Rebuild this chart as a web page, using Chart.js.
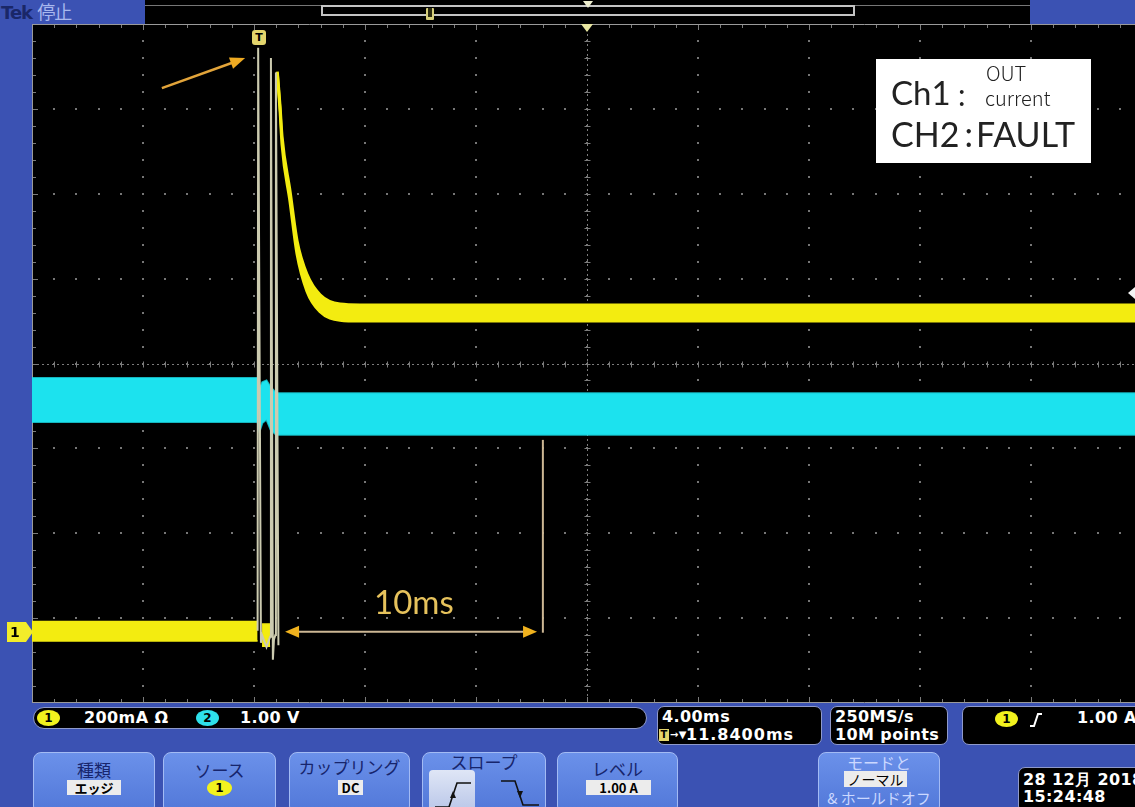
<!DOCTYPE html>
<html><head><meta charset="utf-8">
<script src="https://cdn.jsdelivr.net/npm/chart.js@4.4.1/dist/chart.umd.min.js"></script>
<style>
html,body{margin:0;padding:0;background:#000;}
#root{position:relative;width:1135px;height:807px;overflow:hidden;background:#000;font-family:"DejaVu Sans",sans-serif;}
.abs{position:absolute;}
.blue{position:absolute;background:#3b52b3;}
.box{position:absolute;background:#000;border:1px solid #8f9acb;box-sizing:border-box;}
.rt{position:absolute;color:#fff;font-weight:bold;font-size:16px;line-height:18px;letter-spacing:0.4px;white-space:nowrap;}
.c1{position:absolute;width:23px;height:16px;border-radius:50%;background:#f2f21e;color:#000;font:bold 12px/16px "DejaVu Sans";text-align:center;}
.c2{position:absolute;width:23px;height:16px;border-radius:50%;background:#2ee0ea;color:#000;font:bold 12px/16px "DejaVu Sans";text-align:center;}
.btn{position:absolute;top:752px;height:62px;border-radius:8px;background:linear-gradient(#6b91ea,#5177d8);border:1.5px solid #a3bbf4;box-sizing:border-box;}
.lbl{position:absolute;left:0;right:0;text-align:center;font-family:"Noto Sans CJK JP";font-size:17px;line-height:18px;color:#17256c;white-space:nowrap;}
.val{position:absolute;background:#ececec;color:#000;font-family:"Noto Sans CJK JP","DejaVu Sans";font-size:13px;line-height:15px;font-weight:bold;text-align:center;white-space:nowrap;}
.lg{position:absolute;color:#222;white-space:nowrap;line-height:1;}
</style></head><body>
<div id="root">
  <!-- frame -->
  <div class="blue" style="left:0;top:0;width:145px;height:24px;"></div>
  <div class="blue" style="left:1030px;top:0;width:105px;height:24px;"></div>
  <div class="blue" style="left:0;top:24px;width:32px;height:679px;"></div>
  <div class="blue" style="left:0;top:703px;width:1135px;height:104px;"></div>
  <div class="abs" style="left:1px;top:1px;font:bold 18px/20px 'DejaVu Sans';color:#1a2768;letter-spacing:-1px;">Tek <span style="font-family:'Noto Sans CJK JP';font-weight:normal;color:#a9b8ee;">停止</span></div>
  <div class="abs" style="left:145px;top:5px;width:885px;height:1px;background:#777;"></div>
  <div class="abs" style="left:321px;top:5px;width:534px;height:11px;border:2px solid #c4c4c4;box-sizing:border-box;"></div>
  <div class="abs" style="left:426px;top:8px;width:8px;height:12px;background:#d6cf7a;border-radius:1px;"></div>
  <div class="abs" style="left:428px;top:8px;width:4px;height:9px;background:#2a2a10;"></div>
  <svg class="abs" style="left:582px;top:0px" width="12" height="10"><polygon points="1,1 11,1 6,8" fill="#f0f0d0"/></svg>

  <canvas id="scope" class="abs" width="1110" height="679" style="left:32px;top:24px;width:1110px;height:679px;"></canvas>

  <!-- markers on graticule -->
  <svg class="abs" style="left:580px;top:24px" width="14" height="10"><polygon points="1,0 13,0 7,8" fill="#e8e6a0"/></svg>
  <div class="abs" style="left:252px;top:30px;width:14px;height:15px;background:#e3d56c;border-radius:3px;color:#000;font:bold 11px/15px 'DejaVu Sans';text-align:center;">T</div>
  <svg class="abs" style="left:6px;top:621px" width="28" height="22"><polygon points="1,1 20,1 27,11 20,21 1,21" fill="#f2ec2a"/></svg>
  <div class="abs" style="left:10px;top:624px;font:bold 14px/16px 'DejaVu Sans';color:#000;">1</div>
  <svg class="abs" style="left:1126px;top:286px" width="10" height="14"><polygon points="9,1 9,13 2,7" fill="#f4f4f4"/></svg>

  <!-- annotations text -->
  <div class="abs" style="left:374px;top:585px;font-family:Lato,'Open Sans',sans-serif;font-size:33px;line-height:32px;color:#e6c25c;">10ms</div>
  <div class="abs" style="left:876px;top:59px;width:215px;height:104px;background:#fff;">
    <div class="lg" style="left:15px;top:17px;font-family:Lato,sans-serif;font-size:33px;">Ch1</div>
    <div class="lg" style="left:82px;top:20px;font-family:Lato,sans-serif;font-size:30px;">:</div>
    <div class="lg" style="left:110px;top:4px;font-family:'Noto Sans CJK JP';font-size:20px;line-height:20px;font-weight:300;">OUT</div>
    <div class="lg" style="left:109px;top:29px;font-family:'Noto Sans CJK JP';font-size:20px;line-height:20px;font-weight:300;">current</div>
    <div class="lg" style="left:15px;top:58px;font-family:Lato,sans-serif;font-size:34px;">CH2<span style="margin:0 3px 0 5px;">:</span>FAULT</div>
  </div>

  <!-- readouts -->
  <div class="box" style="left:33px;top:707px;width:614px;height:22px;border-radius:11px;">
    <div class="c1" style="left:3px;top:2px;">1</div>
    <div class="rt" style="left:50px;top:1px;">200mA Ω</div>
    <div class="c2" style="left:162px;top:2px;">2</div>
    <div class="rt" style="left:206px;top:1px;">1.00 V</div>
  </div>
  <div class="box" style="left:657px;top:706px;width:165px;height:39px;border-radius:7px;">
    <div class="rt" style="left:4px;top:1px;">4.00ms</div>
    <div class="abs" style="left:1px;top:22px;width:10px;height:12px;background:#e3d56c;color:#000;font:bold 10px/12px 'DejaVu Sans';text-align:center;">T</div>
    <div class="rt" style="left:12px;top:19px;font-size:10px;">→▼</div>
    <div class="rt" style="left:28px;top:19px;letter-spacing:1px;">11.8400ms</div>
  </div>
  <div class="box" style="left:830px;top:706px;width:118px;height:39px;border-radius:7px;">
    <div class="rt" style="left:4px;top:1px;">250MS/s</div>
    <div class="rt" style="left:4px;top:19px;">10M points</div>
  </div>
  <div class="box" style="left:962px;top:706px;width:190px;height:39px;border-radius:7px;">
    <div class="c1" style="left:32px;top:4px;">1</div>
    <svg class="abs" style="left:66px;top:5px" width="14" height="16"><polyline points="1,14 5,14 9,2 13,2" fill="none" stroke="#fff" stroke-width="2"/></svg>
    <div class="rt" style="left:114px;top:2px;">1.00 A</div>
  </div>

  <!-- buttons -->
  <div class="btn" style="left:33px;width:122px;">
    <div class="lbl" style="top:8px;">種類</div>
    <div class="val" style="left:33px;top:27px;width:54px;">エッジ</div>
  </div>
  <div class="btn" style="left:163px;width:113px;">
    <div class="lbl" style="top:8px;">ソース</div>
    <div class="c1" style="left:43px;top:27px;width:25px;">1</div>
  </div>
  <div class="btn" style="left:289px;width:121px;">
    <div class="lbl" style="top:5px;">カップリング</div>
    <div class="val" style="left:48px;top:27px;width:25px;">DC</div>
  </div>
  <div class="btn" style="left:422px;width:124px;">
    <div class="lbl" style="top:0px;">スロープ</div>
    <div class="abs" style="left:6px;top:17px;width:46px;height:42px;background:linear-gradient(#dfe6f6,#b9c6e8);border-radius:4px;"></div>
    <svg class="abs" style="left:10px;top:24px" width="40" height="34"><polyline points="2,30 16,30 24,6 38,6" fill="none" stroke="#111" stroke-width="1.6"/><polygon points="17,21 23,21 20,14" fill="#111"/></svg>
    <svg class="abs" style="left:76px;top:24px" width="44" height="34"><polyline points="2,4 16,4 24,28 40,28" fill="none" stroke="#111" stroke-width="1.6"/><polygon points="18,14 24,14 21,21" fill="#111"/></svg>
  </div>
  <div class="btn" style="left:557px;width:121px;">
    <div class="lbl" style="top:7px;">レベル</div>
    <div class="val" style="left:28px;top:27px;width:65px;">1.00 A</div>
  </div>
  <div class="btn" style="left:818px;width:122px;">
    <div class="lbl" style="top:0px;color:#cbd8ff;font-size:16px;">モードと</div>
    <div class="val" style="left:25px;top:18px;width:63px;font-weight:normal;font-size:14px;line-height:16px;">ノーマル</div>
    <div class="lbl" style="top:36px;color:#cbd8ff;font-size:15px;">&amp; ホールドオフ</div>
  </div>
  <div class="box" style="left:1018px;top:767px;width:130px;height:46px;border-radius:7px;">
    <div class="rt" style="left:4px;top:3px;">28 12月 2018</div>
    <div class="rt" style="left:4px;top:20px;">15:24:48</div>
  </div>
</div>
<script>
// ---- data (time in ms, amplitude in divisions) ----
// CH1 (OUT current, yellow) baseline envelope before / around trigger
const ch1BaseTime = [0, 8.13, 8.2, 8.29, 8.58];
const ch1BaseHigh = [-3.04, -3.04, null, -3.07, -3.07];
const ch1BaseLow  = [-3.27, -3.27, null, -3.33, -3.33];
// CH1 glitch edges
const ch1SpikeTime = [8.13, 8.15, 8.25, 8.29, 8.45, 8.58, 8.61, 8.68, 8.72, 8.77, 8.79, 8.88];
const ch1SpikeVal  = [-3.15, 3.72, -3.29, -3.20, -3.34, -3.22, 3.60, -3.49, -3.25, -3.20, 3.43, -3.32];
// CH1 decay after the fault and settled level
const ch1DecayTime = [8.84, 8.94, 9.01, 9.30, 9.55, 9.91, 10.38, 11.10, 11.82, 40];
const ch1DecayHigh = [3.44, 3.03, 2.68, 2.03, 1.45, 1.05, 0.81, 0.70, 0.69, 0.69];
const ch1DecayLow  = [3.42, 2.97, 2.58, 1.90, 1.29, 0.85, 0.61, 0.51, 0.50, 0.50];
// CH2 (FAULT, cyan) envelope
const ch2Time = [0, 8.13, 8.20, 8.30, 8.45, 8.60, 8.80, 8.95, 40];
const ch2High = [-0.17, -0.17, -0.30, -0.22, -0.20, -0.28, -0.35, -0.35, -0.35];
const ch2Low  = [-0.69, -0.69, -0.80, -0.70, -0.66, -0.78, -0.84, -0.84, -0.84];
// axis layout: 10 div x 4 ms, 8 div vertical
const xDivs = [0, 4, 8, 12, 16, 20, 24, 28, 32, 36, 40];
const yDivs = [-4, -3, -2, -1, 0, 1, 2, 3, 4];
// annotation anchors (data units)
const noteArrow = {t1: 4.68, v1: 3.245, t2: 7.68, v2: 3.60};
const span10 = {t1: 9.12, t2: 18.2, v: -3.16, tMark: 18.41, vTop: -0.90};

const pts = (t, v) => t.map((x, i) => ({x: x, y: v[i]}));
const YEL = '#f3ec10', CYAN = '#1ce2ee';

const graticule = {
  id: 'graticule',
  beforeDatasetsDraw(chart) {
    const {ctx, chartArea: a, scales: {x, y}} = chart;
    ctx.save();
    ctx.fillStyle = '#767676';
    xDivs.forEach(t => {
      const px = Math.round(x.getPixelForValue(t));
      for (let k = 0; k <= 40; k++) {
        const py = Math.round(y.getPixelForValue(-4 + k * 0.2));
        ctx.fillRect(px - 1, py - 1, 2, 2);
      }
    });
    yDivs.forEach(v => {
      const py = Math.round(y.getPixelForValue(v));
      for (let k = 0; k <= 50; k++) {
        const px = Math.round(x.getPixelForValue(k * 0.8));
        ctx.fillRect(px - 1, py - 1, 2, 2);
      }
    });
    // center cross
    const cx = Math.round(x.getPixelForValue(20)) + 0.5, cy = Math.round(y.getPixelForValue(0)) + 0.5;
    ctx.strokeStyle = '#7c7c7c'; ctx.lineWidth = 1; ctx.setLineDash([2, 3]);
    ctx.beginPath(); ctx.moveTo(a.left, cy); ctx.lineTo(a.right, cy); ctx.moveTo(cx, a.top); ctx.lineTo(cx, a.bottom); ctx.stroke();
    ctx.setLineDash([]);
    ctx.beginPath();
    for (let k = 0; k <= 50; k++) {
      const px = Math.round(x.getPixelForValue(k * 0.8)) + 0.5;
      ctx.moveTo(px, cy - 3); ctx.lineTo(px, cy + 3);
      ctx.moveTo(px, a.top); ctx.lineTo(px, a.top + (k % 5 === 0 ? 6 : 4));
      ctx.moveTo(px, a.bottom); ctx.lineTo(px, a.bottom - (k % 5 === 0 ? 6 : 4));
    }
    for (let k = 0; k <= 40; k++) {
      const py = Math.round(y.getPixelForValue(-4 + k * 0.2)) + 0.5;
      ctx.moveTo(cx - 3, py); ctx.lineTo(cx + 3, py);
      ctx.moveTo(a.left, py); ctx.lineTo(a.left + (k % 5 === 0 ? 6 : 4), py);
    }
    ctx.stroke();
    ctx.strokeStyle = '#9a9a9a';
    ctx.beginPath(); ctx.moveTo(a.left, a.top + 0.5); ctx.lineTo(a.right, a.top + 0.5);
    ctx.moveTo(a.left, a.bottom - 0.5); ctx.lineTo(a.right, a.bottom - 0.5);
    ctx.moveTo(a.left + 0.5, a.top); ctx.lineTo(a.left + 0.5, a.bottom); ctx.stroke();
    ctx.restore();
  }
};

function arrowHead(ctx, x1, y1, x2, y2, len, half, color) {
  const ang = Math.atan2(y2 - y1, x2 - x1);
  ctx.fillStyle = color;
  ctx.beginPath();
  ctx.moveTo(x2, y2);
  ctx.lineTo(x2 - len * Math.cos(ang) + half * Math.sin(ang), y2 - len * Math.sin(ang) - half * Math.cos(ang));
  ctx.lineTo(x2 - len * Math.cos(ang) - half * Math.sin(ang), y2 - len * Math.sin(ang) + half * Math.cos(ang));
  ctx.closePath(); ctx.fill();
}

const notes = {
  id: 'notes',
  afterDatasetsDraw(chart) {
    const {ctx, scales: {x, y}} = chart;
    ctx.save();
    // pointer arrow
    let x1 = x.getPixelForValue(noteArrow.t1), y1 = y.getPixelForValue(noteArrow.v1);
    let x2 = x.getPixelForValue(noteArrow.t2), y2 = y.getPixelForValue(noteArrow.v2);
    ctx.strokeStyle = '#e2a43a'; ctx.lineWidth = 2.5;
    ctx.beginPath(); ctx.moveTo(x1, y1); ctx.lineTo(x2 - 8, y2 + 3); ctx.stroke();
    arrowHead(ctx, x1, y1, x2, y2, 15, 6, '#eeaa22');
    // 10 ms span
    const sx1 = x.getPixelForValue(span10.t1), sx2 = x.getPixelForValue(span10.t2), sy = y.getPixelForValue(span10.v);
    ctx.strokeStyle = '#cdb794'; ctx.lineWidth = 2;
    ctx.beginPath(); ctx.moveTo(sx1 + 8, sy); ctx.lineTo(sx2 - 8, sy); ctx.stroke();
    arrowHead(ctx, sx2, sy, sx1, sy, 14, 6, '#f0b21e');
    arrowHead(ctx, sx1, sy, sx2, sy, 14, 6, '#f0b21e');
    const mx = x.getPixelForValue(span10.tMark);
    ctx.strokeStyle = '#cdb794'; ctx.lineWidth = 2;
    ctx.beginPath(); ctx.moveTo(mx, y.getPixelForValue(span10.vTop)); ctx.lineTo(mx, sy + 1); ctx.stroke();
    ctx.restore();
  }
};

new Chart(document.getElementById('scope'), {
  type: 'line',
  data: {
    datasets: [
      {label: 'CH1 edges', data: pts(ch1SpikeTime, ch1SpikeVal), borderColor: '#cccbb0', borderWidth: 2, order: 0, fill: false},
      {label: 'CH1 decay hi', data: pts(ch1DecayTime, ch1DecayHigh), borderColor: YEL, borderWidth: 3, order: 1, fill: false, cubicInterpolationMode: 'monotone'},
      {label: 'CH1 decay lo', data: pts(ch1DecayTime, ch1DecayLow), borderColor: YEL, borderWidth: 3, backgroundColor: YEL, order: 1, fill: '-1', cubicInterpolationMode: 'monotone'},
      {label: 'CH1 base hi', data: pts(ch1BaseTime, ch1BaseHigh), borderColor: YEL, borderWidth: 1.5, order: 2, fill: false},
      {label: 'CH1 base lo', data: pts(ch1BaseTime, ch1BaseLow), borderColor: YEL, borderWidth: 1.5, backgroundColor: YEL, order: 2, fill: '-1'},
      {label: 'CH2 hi', data: pts(ch2Time, ch2High), borderColor: 'rgba(28,226,238,0.8)', borderWidth: 2, order: 3, fill: false},
      {label: 'CH2 lo', data: pts(ch2Time, ch2Low), borderColor: 'rgba(28,226,238,0.8)', borderWidth: 2, backgroundColor: CYAN, order: 3, fill: '-1'}
    ]
  },
  options: {
    responsive: false, animation: false, devicePixelRatio: 1,
    layout: {padding: 0},
    elements: {point: {radius: 0}, line: {tension: 0, borderCapStyle: 'butt'}},
    scales: {
      x: {type: 'linear', min: 0, max: 40, display: false},
      y: {type: 'linear', min: -4, max: 4, display: false}
    },
    plugins: {legend: {display: false}, tooltip: {enabled: false}}
  },
  plugins: [graticule, notes]
});
</script>
</body></html>
